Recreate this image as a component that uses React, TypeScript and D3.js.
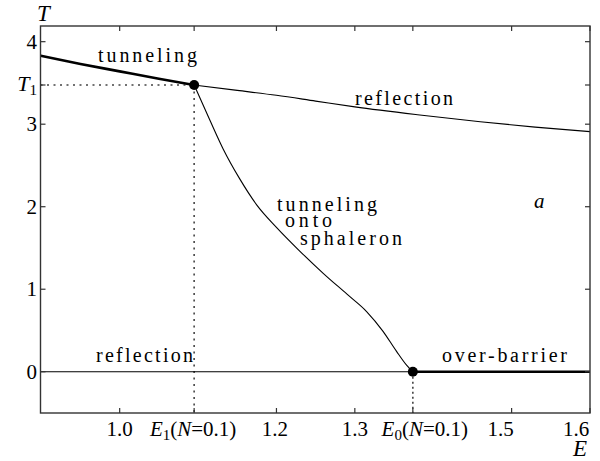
import React from 'react';
import * as d3 from 'd3';

// critical points
const E1 = 1.095;
const T1 = 3.475;
const E0 = 1.374;

// upper branch: tunneling (thick) up to E1, reflection (thin) after it
const tunnelE = [0.899, 0.95, 1.0, 1.05, E1];
const tunnelT = [3.83, 3.73, 3.64, 3.55, T1];
const reflectE = [E1, 1.15, 1.2, 1.25, 1.3, 1.38, 1.46, 1.53, 1.6];
const reflectT = [T1, 3.41, 3.35, 3.28, 3.21, 3.115, 3.03, 2.965, 2.91];

// tunneling onto sphaleron
const sphE = [E1, 1.115, 1.132, 1.153, 1.175, 1.2, 1.23, 1.26, 1.29, 1.315, 1.336, 1.353, 1.366, E0];
const sphT = [T1, 3.05, 2.70, 2.34, 2.02, 1.75, 1.46, 1.19, 0.94, 0.73, 0.49, 0.25, 0.08, 0];

// T = 0 line
const lowThinE = [0.899, E0];
const lowThickE = [E0, 1.6];

const xTickVals = [1.0, E1, 1.2, 1.3, E0, 1.5, 1.6];
const xTickLabels = ['1.0', 'E1', '1.2', '1.3', 'E0', '1.5', '1.6'];
const yTickVals = [0, 1, 2, 3, T1, 4];
const yTickLabels = ['0', '1', '2', '3', 'T1', '4'];

const W = 600, H = 461;
const serif = { fontFamily: '"Liberation Serif", "Times New Roman", Times, "DejaVu Serif", "Noto Serif", serif' };

const x = d3.scaleLinear().domain([0.899, 1.6]).range([40.5, 590]);
const y = d3.scaleLinear().domain([-0.5, 4.19]).range([413, 26]);

const line = d3.line<[number, number]>().x(d => x(d[0])).y(d => y(d[1])).curve(d3.curveMonotoneX);

const zip = (a: number[], b: number[]) => a.map((v, i) => [v, b[i]] as [number, number]);

// label nudges (hand placed in the original)
const xLabelNudge: Record<string, number> = { '1.2': -1.5, E0: 12, '1.5': -11, '1.6': -14, E1: -1 };

function XLabel({ label, v }: { label: string; v: number }) {
  const cx = x(v) + (xLabelNudge[label] || 0);
  if (label === 'E1' || label === 'E0') {
    return (
      <text x={cx} y={436} textAnchor="middle" fontSize={21} style={serif}>
        <tspan fontStyle="italic">E</tspan>
        <tspan fontSize={15} dy={4}>{label[1]}</tspan>
        <tspan dy={-4}>(</tspan>
        <tspan fontStyle="italic">N</tspan>
        <tspan>=0.1)</tspan>
      </text>
    );
  }
  return (
    <text x={cx} y={436} textAnchor="middle" fontSize={21} style={serif}>{label}</text>
  );
}

function YLabel({ label, v }: { label: string; v: number }) {
  if (label === 'T1') {
    return (
      <text x={37} y={y(v) + 6} textAnchor="end" fontSize={22} style={serif}>
        <tspan fontStyle="italic">T</tspan>
        <tspan fontSize={15} dy={4}>1</tspan>
      </text>
    );
  }
  return (
    <text x={37} y={y(v) + 7} textAnchor="end" fontSize={21} style={serif}>{label}</text>
  );
}

const Label = ({ x0, x1, yb, text }: { x0: number; x1: number; yb: number; text: string }) => (
  <text x={x0} y={yb} fontSize={20} style={serif}
    textLength={x1 - x0} lengthAdjust="spacing">{text}</text>
);

export default function App() {
  const [x0, x1] = x.range();
  const [y0, y1] = y.range();
  return (
    <svg width={W} height={H} style={{ position: 'absolute', left: 0, top: 0, background: '#fff' }}>
      {/* dotted guides */}
      <g stroke="#444" strokeWidth={1.6} strokeDasharray="2,4.5" fill="none">
        <line x1={x0} x2={x(E1)} y1={y(T1)} y2={y(T1)} />
        <line x1={x(E1)} x2={x(E1)} y1={y(T1)} y2={y0} />
        <line x1={x(E0)} x2={x(E0)} y1={y(0)} y2={y0} strokeDasharray="2,3" />
      </g>

      {/* curves */}
      <g fill="none" stroke="#000">
        <path d={line(zip(tunnelE, tunnelT)) || ''} strokeWidth={2.6} />
        <path d={line(zip(reflectE, reflectT)) || ''} strokeWidth={1.1} />
        <path d={line(zip(sphE, sphT)) || ''} strokeWidth={1.1} />
        <path d={line(lowThinE.map(e => [e, 0] as [number, number])) || ''} strokeWidth={1.1} />
        <path d={line(lowThickE.map(e => [e, 0] as [number, number])) || ''} strokeWidth={2.6} />
      </g>
      <circle cx={x(E1)} cy={y(T1)} r={5} fill="#000" />
      <circle cx={x(E0)} cy={y(0)} r={5} fill="#000" />

      {/* frame and ticks */}
      <rect x={x0} y={y1} width={x1 - x0} height={y0 - y1} fill="none" stroke="#333" strokeWidth={1.4} />
      <g stroke="#333" strokeWidth={1.2}>
        {xTickVals.map((v, i) => (
          <g key={'xt' + i}>
            <line x1={x(v)} x2={x(v)} y1={y0} y2={y0 - 5} />
            <line x1={x(v)} x2={x(v)} y1={y1} y2={y1 + 5} />
          </g>
        ))}
        {yTickVals.map((v, i) => (
          <g key={'yt' + i}>
            <line x1={x0} x2={x0 + 5} y1={y(v)} y2={y(v)} />
            <line x1={x1} x2={x1 - 5} y1={y(v)} y2={y(v)} />
          </g>
        ))}
      </g>
      {xTickVals.map((v, i) => <XLabel key={'xl' + i} label={xTickLabels[i]} v={v} />)}
      {yTickVals.map((v, i) => <YLabel key={'yl' + i} label={yTickLabels[i]} v={v} />)}

      {/* axis names */}
      <text x={37} y={21} fontSize={23} fontStyle="italic" style={serif}>T</text>
      <text x={573} y={456} fontSize={23} fontStyle="italic" style={serif}>E</text>

      {/* region labels */}
      <Label x0={98} x1={197} yb={62} text="tunneling" />
      <Label x0={355} x1={453} yb={105} text="reflection" />
      <Label x0={277} x1={377} yb={211} text="tunneling" />
      <Label x0={285} x1={332} yb={227} text="onto" />
      <Label x0={300} x1={402} yb={245} text="sphaleron" />
      <Label x0={96} x1={193} yb={362} text="reflection" />
      <Label x0={442} x1={567} yb={362} text="over-barrier" />
      <text x={534} y={208} fontSize={21} fontStyle="italic" style={serif}>a</text>
    </svg>
  );
}
